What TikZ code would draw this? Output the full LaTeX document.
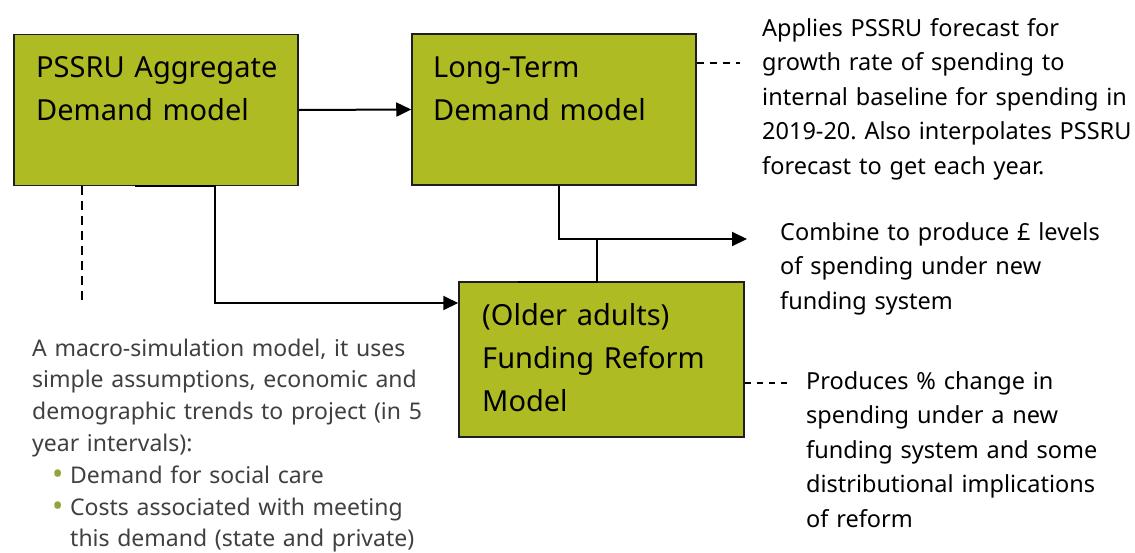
\documentclass[tikz,border=0pt]{standalone}
\usepackage{fontspec}
\setmainfont{Noto Sans}
\usetikzlibrary{arrows.meta}
\definecolor{boxgreen}{HTML}{AEBB22}
\definecolor{bulletgreen}{HTML}{8FA640}
\definecolor{notegray}{HTML}{404040}
\definecolor{edgegray}{HTML}{1E1E1E}
\newcommand{\greenbullet}{\makebox[18pt][l]{\textcolor{bulletgreen}{\raisebox{-1.6pt}{\scalebox{1.3}{•}}}}}
\begin{document}
\frenchspacing
\begin{tikzpicture}[x=1pt,y=-1pt,
  modelbox/.style={draw=edgegray, line width=1.5pt, fill=boxgreen, minimum width=284pt, minimum height=151pt, inner sep=0pt},
  boxtext/.style={anchor=base west, inner sep=0pt, text width=262pt, align=left, font=\fontsize{29}{43}\selectfont},
  note/.style={anchor=base west, inner sep=0pt, text width=520pt, align=left, font=\fontsize{23.5}{34.5}\selectfont},
  leftnote/.style={note, text=notegray, font=\fontsize{23}{31.8}\selectfont},
  link/.style={line width=2pt, black},
  flow/.style={link, -{Triangle[length=15pt,width=14pt]}},
  leader/.style={line width=1.5pt, black, dash pattern=on 7pt off 6pt},
]
\useasboundingbox[fill=white] (0,0) rectangle (1135,552);
% boxes
\node[modelbox] (b1) at (156,110) {};
\node[modelbox] (b2) at (554,109.5) {};
\node[modelbox, minimum width=285pt, minimum height=155pt] (b3) at (601.5,359.5) {};
% box texts
\node[boxtext] (b1t) at (36,77) {PSSRU Aggregate\\Demand model};
\node[boxtext] (b2t) at (433,77) {Long-Term\\Demand model};
\node[boxtext] (b3t) at (482,325) {(Older adults)\\Funding Reform\\Model};
% notes
\node[note] (n1) at (762,36) {Applies PSSRU forecast for\\growth rate of spending to\\internal baseline for spending in\\2019-20. Also interpolates PSSRU\\forecast to get each year.};
\node[note] (n2) at (780,240) {Combine to produce £ levels\\of spending under new\\funding system};
\node[note] (n3) at (806,389) {Produces \% change in\\spending under a new\\funding system and some\\distributional implications\\of reform};
\node[leftnote] (n4) at (32,356) {A macro-simulation model, it uses\\simple assumptions, economic and\\demographic trends to project (in 5\\year intervals):\\
\hspace*{20pt}\greenbullet Demand for social care\\
\hspace*{20pt}\greenbullet Costs associated with meeting\\
\hspace*{38pt}this demand (state and private)};
% helper coordinates
\coordinate (c1) at (135,185.5);
\coordinate (j1) at (215,303);
\coordinate (j2) at (559,239);
\coordinate (t2) at (747,239);
\coordinate (c3) at (518,282);
\coordinate (j3) at (597,239);
\coordinate (d1) at (740,63);
\coordinate (d2) at (82,303);
\coordinate (d3) at (792,383);
% connectors
\draw[flow] (b1.east) -- (b2.west);
\draw[flow] (c1) -| (j1) -- (j1 -| b3.west);
\draw[flow] (j2 |- b2.south) -- (j2) -- (t2);
\draw[link] (c3) -| (j3);
% leaders
\draw[leader] (d1 -| b2.east) -- (d1);
\draw[leader, dash pattern=on 9pt off 6pt] (d2 |- b1.south) -- (d2);
\draw[leader, dash pattern=on 6pt off 6pt] (d3 -| b3.east) -- (d3);
\end{tikzpicture}
\end{document}
